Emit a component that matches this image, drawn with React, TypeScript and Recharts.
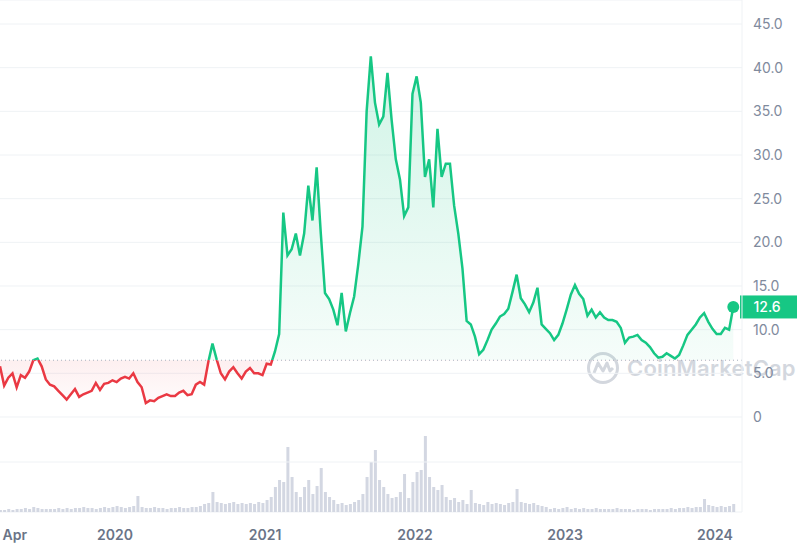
import React from 'react'
import { ComposedChart, Area, Bar, XAxis, YAxis, CartesianGrid, ReferenceLine } from 'recharts'

// sampled roughly every 10 days, starting late March 2019
const startYear = 2019.233
const stepsPerYear = 36

const prices = [
  5.8, 3.6, 4.5, 5.0, 3.4, 4.8, 4.5, 5.2, 6.5, 6.7,
  5.8, 4.3, 3.7, 3.5, 3.0, 2.5, 2.0, 2.6, 3.2, 2.3,
  2.6, 2.8, 3.0, 3.9, 3.1, 3.8, 3.9, 4.2, 4.0, 4.4,
  4.6, 4.4, 5.0, 4.0, 3.4, 1.6, 1.9, 1.8, 2.2, 2.4,
  2.6, 2.4, 2.4, 2.8, 3.0, 2.5, 2.6, 3.7, 4.0, 3.7,
  6.3, 8.4, 6.6, 5.0, 4.3, 5.2, 5.7, 5.0, 4.4, 5.2,
  5.6, 5.0, 5.0, 4.8, 6.1, 6.0, 7.5, 9.5, 23.4, 18.5,
  19.2, 21.0, 18.5, 21.0, 26.5, 22.5, 28.6, 21.0, 14.2, 13.5,
  12.3, 10.5, 14.2, 9.8, 11.9, 13.8, 17.5, 21.8, 35.0, 41.3,
  36.0, 33.5, 34.4, 39.4, 34.0, 29.5, 27.2, 23.0, 24.0, 37.0,
  39.0, 36.0, 27.5, 29.5, 24.0, 33.0, 27.5, 29.0, 29.0, 24.2,
  21.0, 17.0, 11.0, 10.6, 9.2, 7.2, 7.7, 8.8, 10.0, 10.7,
  11.5, 11.8, 12.4, 14.3, 16.3, 13.6, 12.9, 12.0, 13.1, 14.8,
  10.6, 10.1, 9.6, 8.8, 9.4, 10.7, 12.3, 14.0, 15.1, 14.1,
  13.5, 11.6, 12.3, 11.4, 12.0, 11.4, 11.1, 11.1, 10.9, 10.2,
  8.5, 9.1, 9.2, 9.4, 8.8, 8.5, 8.0, 7.3, 6.8, 6.9,
  7.3, 7.0, 6.7, 7.1, 8.2, 9.4, 10.0, 10.6, 11.4, 11.9,
  10.9, 10.1, 9.5, 9.5, 10.2, 10.0, 12.6,
]

// volume, $M
const volumes = [
  10, 10, 15, 10, 15, 15, 20, 15, 25, 20, 15, 15,
  15, 15, 20, 15, 20, 15, 20, 20, 25, 20, 20, 15, 20, 25, 20, 25, 30, 25, 20, 25, 30, 80,
  25, 20, 20, 25, 20, 20, 15, 20, 20, 25, 20, 20, 25, 25, 30, 40,
  45, 100, 50, 45, 40, 45, 50, 40, 45, 40, 45, 40, 50, 45,
  60, 75, 125, 160, 150, 325, 175,
  100, 75, 125, 160, 90, 130, 220, 100, 75, 60,
  40, 45, 35, 40, 50, 60,
  90, 175, 250, 310, 160, 125, 90, 70,
  75, 100, 190, 70, 150, 200, 210, 380, 175, 125, 110, 135, 75, 60,
  70, 50, 60, 40, 110,
  45, 40, 35, 50, 40, 45, 40, 35, 45, 50, 115, 50, 45, 40, 45, 35, 30, 25,
  15, 20, 15, 20, 25, 15, 20, 15, 20, 15, 15, 20, 15, 15, 15, 15, 20, 15, 15, 15,
  10, 15, 15, 15, 10, 15, 15, 15, 15, 20, 15, 20, 20, 25, 20, 25, 25,
  65, 35, 30, 25, 30, 25, 30, 40,
]

const priceTicks = [0, 5, 10, 15, 20, 25, 30, 35, 40, 45]
const yearTicks = [2019.25, 2020, 2021, 2022, 2023, 2024]
const yearLabels = ['Apr', '2020', '2021', '2022', '2023', '2024']
const baseline = 6.5
const lastPrice = 12.6

const GREEN = '#16c784'
const RED = '#ea3943'
const FONT = 'Inter, "Noto Sans", sans-serif'

const data = prices.map((p, i) => ({ t: startYear + i / stepsPerYear, price: p, volume: volumes[i] }))

const maxP = Math.max(...prices)
const minP = Math.min(...prices)
const split = (maxP - baseline) / (maxP - minP)

function YearTick(props: any) {
  const { x, y, payload, index } = props
  const label = yearLabels[yearTicks.indexOf(payload.value)]
  return (
    <text x={x} y={y} dy={26} textAnchor={index === 0 ? 'start' : 'middle'}
      fill="#6a7487" fontSize={14} fontWeight={600} fontFamily={FONT}>
      {label}
    </text>
  )
}

function PriceTag(props: any) {
  const { viewBox } = props
  const left = viewBox.x + viewBox.width - 2
  return (
    <g>
      <rect x={left} y={viewBox.y - 11.5} width={57} height={23} fill={GREEN} />
      <text x={left + 27} y={viewBox.y + 5} textAnchor="middle" fill="#fff" fontSize={14} fontWeight={500} fontFamily={FONT}>
        {lastPrice.toFixed(1)}
      </text>
    </g>
  )
}

function EndDot(props: any) {
  const { cx, cy, index } = props
  if (index !== prices.length - 1) return <g key={'d' + index} />
  return <circle key="end" cx={cx} cy={cy} r={6} fill={GREEN} />
}

function Watermark() {
  return (
    <div style={{ position: 'absolute', left: 586, top: 351, display: 'flex', alignItems: 'center', zIndex: 0,
      color: '#d3d7de', fontFamily: FONT, fontSize: 22, fontWeight: 600, letterSpacing: 0.2 }}>
      <svg width={34} height={34} viewBox="0 0 34 34" style={{ marginRight: 7 }}>
        <circle cx={17} cy={17} r={14.5} fill="none" stroke="#d3d7de" strokeWidth={3} />
        <path d="M8 22 L12 12 L17 20 L21 12 L24 20 L27 17" fill="none" stroke="#d3d7de" strokeWidth={3} strokeLinejoin="round" />
      </svg>
      CoinMarketCap
    </div>
  )
}

export default function App() {
  return (
    <div style={{ position: 'absolute', left: 0, top: 0, width: 800, height: 550, background: '#fff', overflow: 'hidden' }}>
      <Watermark />
      <div style={{ position: 'absolute', left: 0, top: 0, zIndex: 1 }}>
        <ComposedChart width={800} height={550} data={data} margin={{ top: 0, right: 0, bottom: 0, left: 0 }}>
          <defs>
            <linearGradient id="lineGrad" x1="0" y1="0" x2="0" y2="1">
              <stop offset={0} stopColor={GREEN} />
              <stop offset={split} stopColor={GREEN} />
              <stop offset={split} stopColor={RED} />
              <stop offset={1} stopColor={RED} />
            </linearGradient>
            <linearGradient id="fillGrad" x1="0" y1="0" x2="0" y2="1">
              <stop offset={0} stopColor={GREEN} stopOpacity={0.2} />
              <stop offset={split} stopColor={GREEN} stopOpacity={0.04} />
              <stop offset={split} stopColor={RED} stopOpacity={0.08} />
              <stop offset={1} stopColor={RED} stopOpacity={0.02} />
            </linearGradient>
          </defs>
          <CartesianGrid yAxisId="price" vertical={false} stroke="#eff2f5" />
          <XAxis dataKey="t" type="number" domain={[2019.233, 2024.18]} allowDataOverflow ticks={yearTicks}
            interval={0} axisLine={false} tickLine={false} tickSize={0} height={38} tick={<YearTick />} />
          <YAxis yAxisId="price" orientation="right" domain={[-10.88, 47.75]} allowDataOverflow ticks={priceTicks}
            width={58} axisLine={{ stroke: '#eff2f5' }} tickLine={false} tickSize={0} tickMargin={11}
            tick={{ fill: '#808a9d', fontSize: 14, fontFamily: FONT }}
            tickFormatter={(v: number) => (v === 0 ? '0' : v.toFixed(1))} />
          <YAxis yAxisId="vol" hide domain={[0, 2560]} allowDataOverflow />
          <ReferenceLine yAxisId="vol" y={250} stroke="#eff2f5" />
          <Bar yAxisId="vol" dataKey="volume" fill="#d3d7e2" barSize={3} isAnimationActive={false} />
          <ReferenceLine yAxisId="price" y={baseline} stroke="#a7afbd" strokeDasharray="1 3" />
          <Area yAxisId="price" type="linear" dataKey="price" baseValue={baseline}
            stroke="url(#lineGrad)" strokeWidth={2.5} fill="url(#fillGrad)" fillOpacity={1}
            dot={EndDot} activeDot={false} isAnimationActive={false} />
          <ReferenceLine yAxisId="price" y={lastPrice} stroke="none" label={<PriceTag />} />
        </ComposedChart>
      </div>
    </div>
  )
}
